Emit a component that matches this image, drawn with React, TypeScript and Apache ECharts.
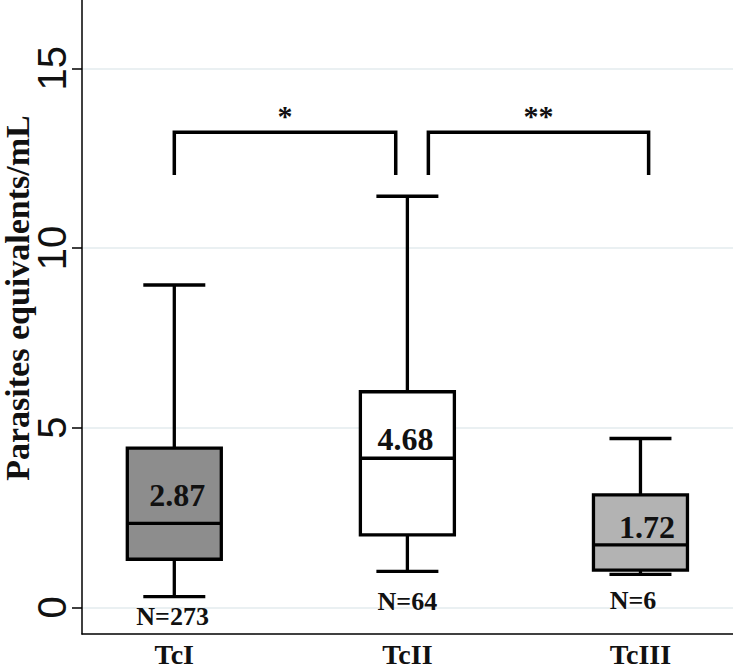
import React, { useEffect, useRef } from 'react';
import * as echarts from 'echarts';

// ---- data ----
const categories = ['TcI', 'TcII', 'TcIII'];
const categoryPos = [1, 2, 3];
const whiskerLow = [0.3, 1.0, 0.92];
const q1 = [1.34, 2.02, 1.04];
const median = [2.34, 4.15, 1.74];
const q3 = [4.43, 6.0, 3.13];
const whiskerHigh = [8.97, 11.44, 4.7];
const meanLabels = ['2.87', '4.68', '1.72'];
const nLabels = ['N=273', 'N=64', 'N=6'];
const yTicks = [0, 5, 10, 15];

// significance brackets (data coordinates)
const bracketFrom = [1.0, 2.09];
const bracketTo = [1.95, 3.035];
const bracketLow = [12.03, 12.03];
const bracketHigh = [13.22, 13.22];
const bracketMarks = ['*', '**'];

// ---- styles / layout ----
const boxFills = ['#8d8d8d', '#ffffff', '#b3b3b3'];
const meanLabelOffset = [[3, -28.6], [-2, -19.5], [6.5, -18.3]];
const nLabelOffset = [[-1.7, 8.8], [0, -6.1], [-7.5, -6.6]];
const SERIF = 'Liberation Serif';
const SANS = 'Liberation Sans';

export default function App() {
  const ref = useRef<HTMLDivElement>(null);
  useEffect(() => {
    document.body.style.margin = '0';
    if (!ref.current) return;
    const chart = echarts.init(ref.current, null, { renderer: 'svg' });
    const boxData = categoryPos.map((x, i) => [x, whiskerLow[i], q1[i], median[i], q3[i], whiskerHigh[i]]);
    const bracketData = bracketFrom.map((f, i) => [f, bracketTo[i], bracketLow[i], bracketHigh[i]]);
    const option: any = {
      animation: false,
      backgroundColor: '#ffffff',
      grid: { left: 82, right: 0, top: 0, bottom: 34, containLabel: false, outerBoundsMode: 'none' },
      xAxis: {
        type: 'value',
        min: 0.604,
        max: 3.397,
        axisLine: { show: true, onZero: false, lineStyle: { color: '#000', width: 1.5 } },
        axisTick: { show: false },
        splitLine: { show: false },
        axisLabel: {
          customValues: categoryPos,
          formatter: (v: number) => categories[Math.round(v) - 1] ?? '',
          margin: 9,
          fontSize: 28,
          lineHeight: 22,
          fontWeight: 'bold',
          fontFamily: SERIF,
          color: '#111',
        },
      },
      yAxis: {
        type: 'value',
        min: -0.74,
        max: 16.9,
        axisLine: { show: true, onZero: false, lineStyle: { color: '#000', width: 1.5 } },
        axisTick: { show: true, length: 10, customValues: yTicks, lineStyle: { color: '#000', width: 1.5 } },
        axisLabel: {
          customValues: yTicks,
          rotate: 90,
          margin: 10,
          fontSize: 40,
          fontFamily: SANS,
          color: '#111',
        },
        splitLine: { show: true, lineStyle: { color: '#e3ebee', width: 1.5 } },
      },
      graphic: [
        {
          type: 'text',
          x: 17,
          y: 298,
          rotation: Math.PI / 2,
          style: {
            text: 'Parasites equivalents/mL',
            fontSize: 34,
            lineHeight: 26,
            fontWeight: 'bold',
            fontFamily: SERIF,
            fill: '#111',
            align: 'center',
            verticalAlign: 'middle',
          },
        },
      ],
      series: [
        {
          type: 'custom',
          data: boxData,
          encode: { x: 0, y: [1, 2, 3, 4, 5] },
          renderItem: (params: any, api: any) => {
            const i = params.dataIndex;
            const x = api.value(0);
            const lo = api.coord([x, api.value(1)]);
            const b1 = api.coord([x, api.value(2)]);
            const md = api.coord([x, api.value(3)]);
            const b3 = api.coord([x, api.value(4)]);
            const hi = api.coord([x, api.value(5)]);
            const zero = api.coord([x, 0]);
            const cx = lo[0];
            const boxW = 94;
            const capW = 62;
            const lw = 3.3;
            const stroke = { stroke: '#000', lineWidth: lw };
            return {
              type: 'group',
              children: [
                { type: 'line', shape: { x1: cx, y1: lo[1], x2: cx, y2: b1[1] }, style: stroke },
                { type: 'line', shape: { x1: cx, y1: b3[1], x2: cx, y2: hi[1] }, style: stroke },
                { type: 'line', shape: { x1: cx - capW / 2, y1: lo[1], x2: cx + capW / 2, y2: lo[1] }, style: stroke },
                { type: 'line', shape: { x1: cx - capW / 2, y1: hi[1], x2: cx + capW / 2, y2: hi[1] }, style: stroke },
                {
                  type: 'rect',
                  shape: { x: cx - boxW / 2, y: b3[1], width: boxW, height: b1[1] - b3[1] },
                  style: { fill: boxFills[i], stroke: '#000', lineWidth: lw },
                },
                { type: 'line', shape: { x1: cx - boxW / 2, y1: md[1], x2: cx + boxW / 2, y2: md[1] }, style: stroke },
                {
                  type: 'text',
                  x: cx + meanLabelOffset[i][0],
                  y: md[1] + meanLabelOffset[i][1],
                  style: {
                    text: meanLabels[i],
                    fontSize: 32,
                    fontWeight: 'bold',
                    fontFamily: SERIF,
                    fill: '#111',
                    align: 'center',
                    verticalAlign: 'middle',
                  },
                },
                {
                  type: 'text',
                  x: cx + nLabelOffset[i][0],
                  y: zero[1] + nLabelOffset[i][1],
                  style: {
                    text: nLabels[i],
                    fontSize: 26,
                    fontWeight: 'bold',
                    fontFamily: SERIF,
                    fill: '#111',
                    align: 'center',
                    verticalAlign: 'middle',
                  },
                },
              ],
            };
          },
        },
        {
          type: 'custom',
          data: bracketData,
          encode: { x: [0, 1], y: [2, 3] },
          renderItem: (params: any, api: any) => {
            const i = params.dataIndex;
            const p1 = api.coord([api.value(0), api.value(2)]);
            const p2 = api.coord([api.value(0), api.value(3)]);
            const p3 = api.coord([api.value(1), api.value(3)]);
            const p4 = api.coord([api.value(1), api.value(2)]);
            return {
              type: 'group',
              children: [
                {
                  type: 'polyline',
                  shape: { points: [p1, p2, p3, p4] },
                  style: { stroke: '#000', lineWidth: 3.5, fill: 'none', lineJoin: 'miter' },
                },
                {
                  type: 'text',
                  x: (p2[0] + p3[0]) / 2,
                  y: p2[1] - 17,
                  style: {
                    text: bracketMarks[i],
                    fontSize: 30,
                    fontWeight: 'bold',
                    fontFamily: SERIF,
                    fill: '#111',
                    align: 'center',
                    verticalAlign: 'middle',
                  },
                },
              ],
            };
          },
        },
      ],
    };
    chart.setOption(option);
    return () => chart.dispose();
  }, []);
  return <div ref={ref} style={{ width: 733, height: 668 }} />;
}
